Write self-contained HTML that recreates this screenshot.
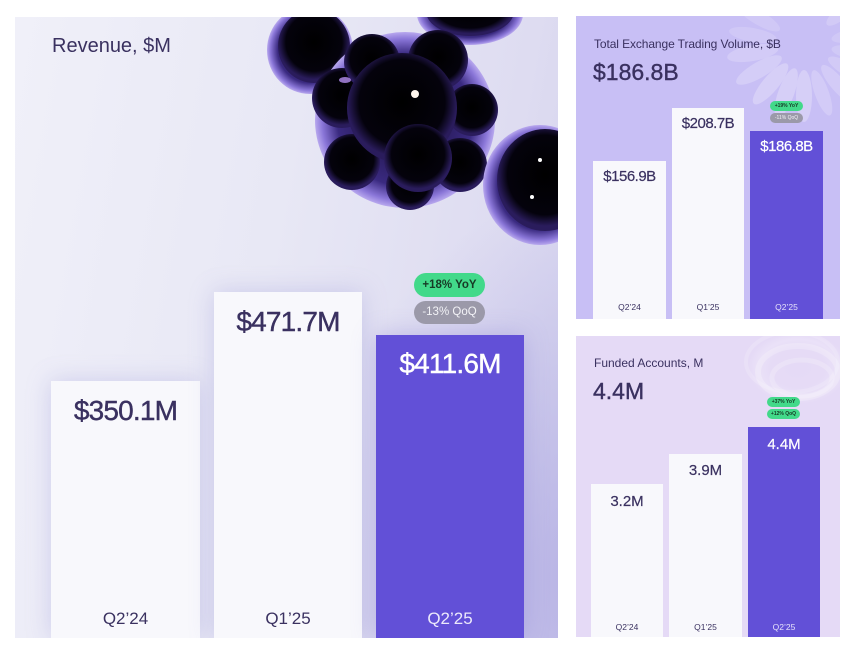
<!DOCTYPE html>
<html>
<head>
<meta charset="utf-8">
<style>
  html,body{margin:0;padding:0;}
  body{width:860px;height:650px;background:#ffffff;position:relative;overflow:hidden;font-family:"Liberation Sans",Arial,sans-serif;}
  .abs{position:absolute;}
  .panel{position:absolute;overflow:hidden;}
  #main{left:15px;top:17px;width:543px;height:621px;
    background:
      radial-gradient(ellipse 260px 380px at 560px 560px, rgba(180,175,228,0.85), rgba(180,175,228,0) 100%),
      linear-gradient(100deg,#f0f0f9 0%,#e8e8f5 45%,#dedcf1 80%,#d4d2ee 100%);}
  #tr{left:576px;top:16px;width:264px;height:303px;background:#c8bff5;}
  #br{left:576px;top:336px;width:264px;height:301px;background:#e5daf6;}
  .bar{position:absolute;}
  .white{background:#f8f8fc;}
  .purple{background:#6250d7;}
  .val{position:absolute;text-align:center;white-space:nowrap;color:#3a3160;}
  .wv{color:#ffffff;}
  .badge{position:absolute;border-radius:20px;text-align:center;white-space:nowrap;font-weight:bold;}
  .green{background:#42d98a;color:#173a26;}
  .gray{background:#9b99a9;color:#f2f2f6;}
</style>
</head>
<body>

<!-- MAIN PANEL -->
<div id="main" class="panel">
  <div class="bar white" style="left:36px;top:364px;width:149px;height:257px;box-shadow:0 0 22px rgba(150,145,215,0.35);"></div>
  <div class="bar white" style="left:199px;top:275px;width:148px;height:346px;box-shadow:0 0 22px rgba(150,145,215,0.35);"></div>
  <div class="bar purple" style="left:361px;top:318px;width:148px;height:303px;box-shadow:0 0 22px rgba(130,120,210,0.35);"></div>
</div>

<svg class="abs" style="left:0;top:0" width="860" height="650" viewBox="0 0 860 650">
  <defs>
    <clipPath id="mc"><rect x="15" y="17" width="543" height="621"/></clipPath>
    <radialGradient id="lobe" cx="50%" cy="45%" r="50%">
      <stop offset="0%" stop-color="#000000"/>
      <stop offset="78%" stop-color="#04020c"/>
      <stop offset="100%" stop-color="#2a1c5c"/>
    </radialGradient>
    <radialGradient id="rimg" cx="50%" cy="50%" r="50%">
      <stop offset="0%" stop-color="#140a30"/>
      <stop offset="75%" stop-color="#3a2a80"/>
      <stop offset="92%" stop-color="#8a76d8"/>
      <stop offset="100%" stop-color="#b8a8ee"/>
    </radialGradient>
    <radialGradient id="swirl" cx="50%" cy="50%" r="50%">
      <stop offset="0%" stop-color="#ffffff" stop-opacity="0"/>
      <stop offset="55%" stop-color="#ffffff" stop-opacity="0.05"/>
      <stop offset="80%" stop-color="#ffffff" stop-opacity="0.25"/>
      <stop offset="100%" stop-color="#ffffff" stop-opacity="0"/>
    </radialGradient>
  </defs>
  <g clip-path="url(#mc)">
    <!-- top-left small blob -->
    <ellipse cx="310" cy="50" rx="43" ry="44" fill="url(#rimg)"/>
    <ellipse cx="314" cy="46" rx="36" ry="37" fill="url(#lobe)"/>
    <!-- top blob -->
    <ellipse cx="470" cy="14" rx="53" ry="31" fill="url(#rimg)"/>
    <ellipse cx="470" cy="11" rx="44" ry="25" fill="url(#lobe)"/>
    <!-- main big blob -->
    <ellipse cx="405" cy="120" rx="90" ry="88" fill="url(#rimg)"/>
    <circle cx="342" cy="98" r="30" fill="url(#lobe)"/>
    <circle cx="372" cy="62" r="28" fill="url(#lobe)"/>
    <circle cx="438" cy="60" r="30" fill="url(#lobe)"/>
    <circle cx="472" cy="110" r="26" fill="url(#lobe)"/>
    <circle cx="460" cy="165" r="27" fill="url(#lobe)"/>
    <circle cx="410" cy="186" r="24" fill="url(#lobe)"/>
    <circle cx="352" cy="162" r="28" fill="url(#lobe)"/>
    <circle cx="402" cy="108" r="55" fill="url(#lobe)"/>
    <circle cx="418" cy="158" r="34" fill="url(#lobe)"/>
    <circle cx="415" cy="94" r="4" fill="#fff6ee"/>
    <ellipse cx="345" cy="80" rx="6" ry="3" fill="#b58ef0" opacity="0.8"/>
    <!-- right blob -->
    <ellipse cx="540" cy="185" rx="57" ry="60" fill="url(#rimg)"/>
    <ellipse cx="545" cy="180" rx="48" ry="51" fill="url(#lobe)"/>
    <circle cx="540" cy="160" r="2" fill="#fff"/>
    <circle cx="532" cy="197" r="2" fill="#fff"/>
  </g>
</svg>

<div class="abs" style="left:52px;top:35px;font-size:20px;line-height:22px;color:#3a3160;">Revenue, $M</div>

<div class="val" style="left:51px;width:149px;top:397px;font-size:28px;line-height:28px;letter-spacing:-0.8px;-webkit-text-stroke:0.4px #3a3160;">$350.1M</div>
<div class="val" style="left:214px;width:148px;top:308px;font-size:28px;line-height:28px;letter-spacing:-0.8px;-webkit-text-stroke:0.4px #3a3160;">$471.7M</div>
<div class="val wv" style="left:376px;width:148px;top:350px;font-size:28px;line-height:28px;letter-spacing:-0.8px;-webkit-text-stroke:0.4px #fff;">$411.6M</div>

<div class="val" style="left:51px;width:149px;top:609px;font-size:17px;line-height:20px;">Q2’24</div>
<div class="val" style="left:214px;width:148px;top:609px;font-size:17px;line-height:20px;">Q1’25</div>
<div class="val wv" style="left:376px;width:148px;top:609px;font-size:17px;line-height:20px;color:#ece9fb;">Q2’25</div>

<div class="badge green" style="left:414px;top:273px;width:71px;height:24px;line-height:24px;font-size:11.5px;">+18% YoY</div>
<div class="badge gray" style="left:414px;top:301px;width:71px;height:23px;line-height:23px;font-size:11.5px;font-weight:normal;">-13% QoQ</div>

<!-- TOP RIGHT PANEL -->
<div id="tr" class="panel">
  <svg width="264" height="303" style="position:absolute;left:0;top:0">
    <g transform="translate(228,28)" fill="#ffffff">
      <ellipse cx="0" cy="52" rx="8" ry="26" opacity="0.25" transform="rotate(0)"/>
      <ellipse cx="0" cy="52" rx="8" ry="26" opacity="0.25" transform="rotate(20)"/>
      <ellipse cx="0" cy="52" rx="8" ry="26" opacity="0.25" transform="rotate(40)"/>
      <ellipse cx="0" cy="52" rx="8" ry="26" opacity="0.22" transform="rotate(60)"/>
      <ellipse cx="0" cy="52" rx="8" ry="26" opacity="0.2" transform="rotate(80)"/>
      <ellipse cx="0" cy="52" rx="7" ry="24" opacity="0.2" transform="rotate(-20)"/>
      <ellipse cx="0" cy="52" rx="7" ry="24" opacity="0.2" transform="rotate(-40)"/>
      <ellipse cx="0" cy="52" rx="7" ry="24" opacity="0.18" transform="rotate(-60)"/>
      <ellipse cx="0" cy="52" rx="7" ry="24" opacity="0.16" transform="rotate(-80)"/>
      <ellipse cx="0" cy="52" rx="7" ry="24" opacity="0.15" transform="rotate(-100)"/>
      <ellipse cx="0" cy="52" rx="7" ry="24" opacity="0.15" transform="rotate(100)"/>
      <ellipse cx="0" cy="52" rx="7" ry="24" opacity="0.15" transform="rotate(120)"/>
      <ellipse cx="0" cy="52" rx="7" ry="22" opacity="0.18" transform="rotate(-130)"/>
      <ellipse cx="0" cy="52" rx="7" ry="22" opacity="0.18" transform="rotate(-160)"/>
      <ellipse cx="0" cy="52" rx="7" ry="22" opacity="0.18" transform="rotate(160)"/>
    </g>
  </svg>
</div>
<div class="abs" style="left:594px;top:37px;font-size:12px;line-height:14px;color:#3a3160;letter-spacing:-0.1px;">Total Exchange Trading Volume, $B</div>
<div class="abs" style="left:593px;top:59px;font-size:23px;line-height:26px;color:#3a3160;-webkit-text-stroke:0.4px #3a3160;">$186.8B</div>

<div class="bar white" style="left:593px;top:161px;width:73px;height:158px;"></div>
<div class="bar white" style="left:672px;top:108px;width:72px;height:211px;"></div>
<div class="bar purple" style="left:750px;top:131px;width:73px;height:188px;"></div>

<div class="val" style="left:593px;width:73px;top:168px;font-size:15px;line-height:18px;letter-spacing:-0.5px;-webkit-text-stroke:0.2px #3a3160;">$156.9B</div>
<div class="val" style="left:672px;width:72px;top:115px;font-size:15px;line-height:18px;letter-spacing:-0.5px;-webkit-text-stroke:0.2px #3a3160;">$208.7B</div>
<div class="val wv" style="left:750px;width:73px;top:138px;font-size:15px;line-height:18px;letter-spacing:-0.5px;-webkit-text-stroke:0.2px #fff;">$186.8B</div>

<div class="val" style="left:593px;width:73px;top:302px;font-size:8.5px;line-height:10px;">Q2’24</div>
<div class="val" style="left:672px;width:72px;top:302px;font-size:8.5px;line-height:10px;">Q1’25</div>
<div class="val wv" style="left:750px;width:73px;top:302px;font-size:8.5px;line-height:10px;color:#e6e2fa;">Q2’25</div>

<div class="badge green" style="left:770px;top:101px;width:33px;height:10px;line-height:10px;font-size:5px;">+19% YoY</div>
<div class="badge gray" style="left:770px;top:113px;width:33px;height:10px;line-height:10px;font-size:5px;font-weight:normal;">-11% QoQ</div>

<!-- BOTTOM RIGHT PANEL -->
<div id="br" class="panel">
  <svg width="264" height="301" style="position:absolute;left:0;top:0">
    <g transform="translate(222,32)">
      <ellipse cx="0" cy="0" rx="50" ry="36" fill="url(#swirl)" opacity="0.8"/>
      <ellipse cx="0" cy="4" rx="40" ry="26" fill="none" stroke="#ffffff" stroke-opacity="0.22" stroke-width="6"/>
      <ellipse cx="4" cy="10" rx="30" ry="18" fill="none" stroke="#ffffff" stroke-opacity="0.2" stroke-width="5"/>
      <ellipse cx="-6" cy="-6" rx="46" ry="30" fill="none" stroke="#ffffff" stroke-opacity="0.16" stroke-width="4"/>
    </g>
  </svg>
</div>
<div class="abs" style="left:594px;top:356px;font-size:12px;line-height:14px;color:#3a3160;">Funded Accounts, M</div>
<div class="abs" style="left:593px;top:378px;font-size:23px;line-height:26px;color:#3a3160;-webkit-text-stroke:0.4px #3a3160;">4.4M</div>

<div class="bar white" style="left:591px;top:484px;width:72px;height:153px;"></div>
<div class="bar white" style="left:669px;top:454px;width:73px;height:183px;"></div>
<div class="bar purple" style="left:748px;top:427px;width:72px;height:210px;"></div>

<div class="val" style="left:591px;width:72px;top:493px;font-size:15px;line-height:18px;-webkit-text-stroke:0.2px #3a3160;">3.2M</div>
<div class="val" style="left:669px;width:73px;top:462px;font-size:15px;line-height:18px;-webkit-text-stroke:0.2px #3a3160;">3.9M</div>
<div class="val wv" style="left:748px;width:72px;top:436px;font-size:15px;line-height:18px;-webkit-text-stroke:0.2px #fff;">4.4M</div>

<div class="val" style="left:591px;width:72px;top:622px;font-size:8.5px;line-height:10px;">Q2’24</div>
<div class="val" style="left:669px;width:73px;top:622px;font-size:8.5px;line-height:10px;">Q1’25</div>
<div class="val wv" style="left:748px;width:72px;top:622px;font-size:8.5px;line-height:10px;color:#e6e2fa;">Q2’25</div>

<div class="badge green" style="left:767px;top:397px;width:33px;height:10px;line-height:10px;font-size:5px;">+37% YoY</div>
<div class="badge green" style="left:767px;top:409px;width:33px;height:10px;line-height:10px;font-size:5px;">+12% QoQ</div>

</body>
</html>
